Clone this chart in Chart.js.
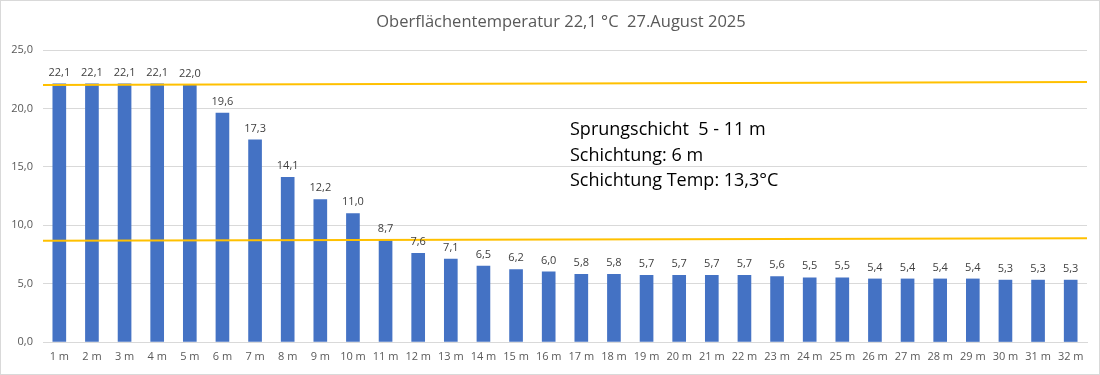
<!DOCTYPE html>
<html>
<head>
<meta charset="utf-8">
<script src="https://cdn.jsdelivr.net/npm/chart.js@4"></script>
<style>
  html, body { margin: 0; padding: 0; background: #fff; }
  #wrap { width: 1098px; height: 373px; border: 1px solid #d9d9d9; }
</style>
</head>
<body>
<div id="wrap"><canvas id="myChart" width="1098" height="373"></canvas></div>
<script>
const tiefen = ['1 m','2 m','3 m','4 m','5 m','6 m','7 m','8 m','9 m','10 m','11 m','12 m','13 m','14 m','15 m','16 m',
  '17 m','18 m','19 m','20 m','21 m','22 m','23 m','24 m','25 m','26 m','27 m','28 m','29 m','30 m','31 m','32 m']
const temperaturen = [22.1,22.1,22.1,22.1,22.0,19.6,17.3,14.1,12.2,11.0,8.7,7.6,7.1,6.5,6.2,6.0,
  5.8,5.8,5.7,5.7,5.7,5.7,5.6,5.5,5.5,5.4,5.4,5.4,5.4,5.3,5.3,5.3]
// Sprungschicht Grenzen (Linien, leicht schräg, Anfang/Ende)
const obereGrenze = [22.0, 22.25]
const untereGrenze = [8.67, 8.88]
const titel = 'Oberflächentemperatur 22,1 °C  27.August 2025'
const notizen = ['Sprungschicht  5 - 11 m', 'Schichtung: 6 m', 'Schichtung Temp: 13,3°C']

const komma = (v) => v.toFixed(1).replace('.', ',')
const xMin = 0.5
const xMax = tiefen.length + 0.5

const textPlugin = {
  id: 'texte',
  afterDatasetsDraw(chart) {
    const ctx = chart.ctx
    const meta = chart.getDatasetMeta(0)
    ctx.save()
    ctx.font = '11px "Open Sans", sans-serif'
    ctx.fillStyle = '#404040'
    ctx.textAlign = 'center'
    ctx.textBaseline = 'bottom'
    meta.data.forEach((bar, i) => {
      ctx.fillText(komma(temperaturen[i]), bar.x, bar.y - 6)
    })
    ctx.font = '16.5px "Open Sans", sans-serif'
    ctx.fillStyle = '#595959'
    ctx.textAlign = 'center'
    ctx.textBaseline = 'middle'
    ctx.fillText(titel, 560, 21)
    ctx.font = '18px "Open Sans", sans-serif'
    ctx.fillStyle = '#000'
    ctx.textAlign = 'left'
    notizen.forEach((t, i) => ctx.fillText(t, 569, 129 + i * 25.5))
    ctx.restore()
  }
}

const data = {
  datasets: [{
    type: 'bar',
    data: temperaturen.map((t, i) => ({ x: i + 1, y: t })),
    backgroundColor: '#4472C4',
    barThickness: 13,
    order: 2
  }, {
    type: 'line',
    data: [{ x: xMin, y: obereGrenze[0] }, { x: xMax, y: obereGrenze[1] }],
    borderColor: '#FFC000',
    borderWidth: 2,
    pointRadius: 0,
    order: 1
  }, {
    type: 'line',
    data: [{ x: xMin, y: untereGrenze[0] }, { x: xMax, y: untereGrenze[1] }],
    borderColor: '#FFC000',
    borderWidth: 2,
    pointRadius: 0,
    order: 1
  }]
}

const config = {
  type: 'bar',
  data: data,
  plugins: [textPlugin],
  options: {
    responsive: false,
    animation: false,
    layout: { padding: { top: 49, right: 12, left: 0, bottom: 0 } },
    plugins: { legend: { display: false }, tooltip: { enabled: false }, title: { display: false } },
    scales: {
      x: {
        type: 'linear',
        min: xMin, max: xMax,
        offset: false,
        grid: { display: false },
        border: { color: '#d9d9d9' },
        afterBuildTicks: (s) => { s.ticks = tiefen.map((t, i) => ({ value: i + 1 })) },
        ticks: {
          color: '#595959', font: { size: 11, family: '"Open Sans", sans-serif' },
          maxRotation: 0, autoSkip: false, padding: 0,
          callback: (v) => tiefen[v - 1]
        },
        afterFit: (s) => { s.height = 32 }
      },
      y: {
        min: 0, max: 25,
        ticks: { stepSize: 5, color: '#595959', font: { size: 11, family: '"Open Sans", sans-serif' }, callback: (v) => komma(v), padding: 10 },
        grid: { color: '#d9d9d9', drawTicks: false },
        border: { display: false },
        afterFit: (s) => { s.width = 42 }
      }
    }
  }
}

new Chart(document.getElementById('myChart'), config)
</script>
</body>
</html>
